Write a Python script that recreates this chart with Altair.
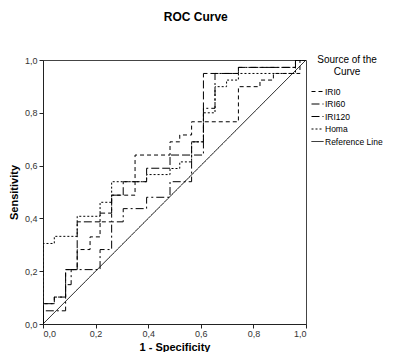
import altair as alt
import pandas as pd

series_names = ["IRI0", "IRI60", "IRI120", "Homa", "Reference Line"]

iri0_fpr = [0, 0, 0.043, 0.043, 0.086, 0.086, 0.13, 0.13, 0.179, 0.179, 0.217, 0.217, 0.261, 0.261, 0.35, 0.35, 0.483, 0.483, 0.52, 0.52, 0.565, 0.565, 0.743, 0.743, 0.825, 0.825, 0.876, 0.876, 0.977, 0.977, 1]
iri0_tpr = [0, 0.077, 0.077, 0.102, 0.102, 0.206, 0.206, 0.282, 0.282, 0.33, 0.33, 0.387, 0.387, 0.488, 0.488, 0.64, 0.64, 0.69, 0.69, 0.716, 0.716, 0.766, 0.766, 0.899, 0.899, 0.924, 0.924, 0.949, 0.949, 1, 1]

iri60_fpr = [0, 0, 0.043, 0.043, 0.086, 0.086, 0.13, 0.13, 0.217, 0.217, 0.261, 0.261, 0.305, 0.305, 0.394, 0.394, 0.483, 0.483, 0.565, 0.565, 0.61, 0.61, 0.743, 0.743, 0.96, 0.96, 1]
iri60_tpr = [0, 0.077, 0.077, 0.102, 0.102, 0.206, 0.206, 0.387, 0.387, 0.42, 0.42, 0.488, 0.488, 0.539, 0.539, 0.59, 0.59, 0.64, 0.64, 0.69, 0.69, 0.949, 0.949, 0.972, 0.972, 1, 1]

iri120_fpr = [0, 0, 0.086, 0.086, 0.107, 0.107, 0.217, 0.217, 0.261, 0.261, 0.305, 0.305, 0.394, 0.394, 0.483, 0.483, 0.565, 0.565, 0.61, 0.61, 0.654, 0.654, 0.743, 0.743, 0.96, 0.96, 1]
iri120_tpr = [0, 0.05, 0.05, 0.149, 0.149, 0.206, 0.206, 0.282, 0.282, 0.387, 0.387, 0.437, 0.437, 0.48, 0.48, 0.539, 0.539, 0.64, 0.64, 0.817, 0.817, 0.949, 0.949, 0.972, 0.972, 1, 1]

homa_fpr = [0, 0, 0.043, 0.043, 0.13, 0.13, 0.217, 0.217, 0.261, 0.261, 0.394, 0.394, 0.483, 0.483, 0.52, 0.52, 0.565, 0.565, 0.61, 0.61, 0.654, 0.654, 0.698, 0.698, 0.743, 0.743, 0.96, 0.96, 1]
homa_tpr = [0, 0.305, 0.305, 0.332, 0.332, 0.408, 0.408, 0.461, 0.461, 0.539, 0.539, 0.566, 0.566, 0.589, 0.589, 0.614, 0.614, 0.69, 0.69, 0.80, 0.80, 0.899, 0.899, 0.924, 0.924, 0.949, 0.949, 1, 1]

ref_fpr = [0, 1]
ref_tpr = [0, 1]

tick_values = [0, 0.2, 0.4, 0.6, 0.8, 1.0]

rows = []
for name, xs, ys in [
    ("IRI0", iri0_fpr, iri0_tpr),
    ("IRI60", iri60_fpr, iri60_tpr),
    ("IRI120", iri120_fpr, iri120_tpr),
    ("Homa", homa_fpr, homa_tpr),
    ("Reference Line", ref_fpr, ref_tpr),
]:
    for i, (x, y) in enumerate(zip(xs, ys)):
        rows.append({"series": name, "fpr": x, "tpr": y, "idx": i})
df = pd.DataFrame(rows)

font = "Liberation Sans"
label_expr = "replace(format(datum.value, '.1f'), '.', ',')"

chart = alt.Chart(df).mark_line(color="black", strokeWidth=1, clip=True).encode(
    x=alt.X("fpr:Q", scale=alt.Scale(domain=[0, 1], nice=False),
            axis=alt.Axis(title="1 - Specificity", values=tick_values, labelExpr=label_expr,
                          grid=False, tickSize=4, labelFontSize=9, labelColor="#333",
                          titleFontSize=11, titleFontWeight="bold", titlePadding=3,
                          domainColor="#222", tickColor="#222", labelPadding=1)),
    y=alt.Y("tpr:Q", scale=alt.Scale(domain=[0, 1], nice=False),
            axis=alt.Axis(title="Sensitivity", values=tick_values, labelExpr=label_expr,
                          grid=False, tickSize=4, labelFontSize=9, labelColor="#333",
                          titleFontSize=11, titleFontWeight="bold", titlePadding=5,
                          domainColor="#222", tickColor="#222", labelPadding=2)),
    strokeDash=alt.StrokeDash("series:N",
        scale=alt.Scale(domain=series_names,
                        range=[[4, 3], [8, 3], [8, 3, 2, 3], [2, 2], [1, 0]]),
        legend=alt.Legend(title=["Source of the", "Curve"], orient="none",
                          legendX=268, legendY=-5, titleFontSize=10,
                          titleFontWeight="normal", titleAlign="center", titleAnchor="middle",
                          labelFontSize=8.5, symbolType="stroke", symbolStrokeWidth=1,
                          symbolSize=144, symbolStrokeColor="black", rowPadding=1.5,
                          labelOffset=1, titlePadding=8, padding=0, labelLimit=70)),
    detail="series:N",
    order="idx:Q",
).properties(
    width=263, height=264,
    title=alt.TitleParams("ROC Curve", fontSize=12, fontWeight="bold", anchor="middle",
                          frame="bounds", offset=31),
    padding={"left": 0, "top": 3, "right": 0, "bottom": 0},
).configure(font=font).configure_view(stroke="#444", strokeWidth=1)

chart.save("out.html", embed_options={"renderer": "svg", "actions": False})
